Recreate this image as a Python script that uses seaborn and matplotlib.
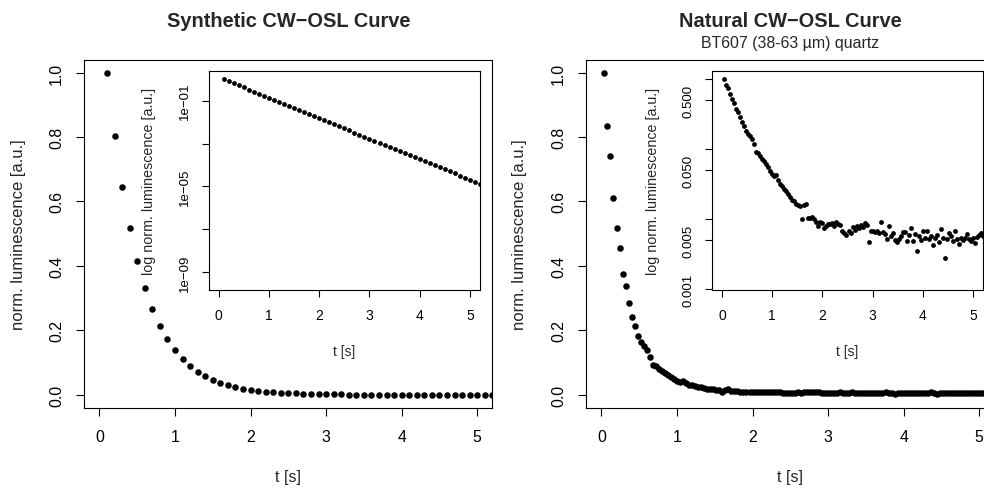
import numpy as np
import pandas as pd
import matplotlib
matplotlib.use("Agg")
import matplotlib.pyplot as plt
from matplotlib.ticker import NullLocator
import seaborn as sns

# ---------------- data ----------------
syn_t = np.round(np.arange(1, 53) * 0.1, 2)
syn_lum = [1.0, 0.8025, 0.6440, 0.5169, 0.4148, 0.3329, 0.2671, 0.2144, 0.1720, 0.1381,
           0.1108, 0.08892, 0.07136, 0.05727, 0.04596, 0.03688, 0.02960, 0.02375, 0.01906, 0.01530,
           0.01228, 0.009853, 0.007907, 0.006346, 0.005093, 0.004087, 0.003280, 0.002632, 0.002112, 0.001695,
           0.001360, 0.001092, 0.0008761, 0.0007031, 0.0005642, 0.0004528, 0.0003634, 0.0002916, 0.0002340, 0.0001878,
           0.0001507, 0.0001210, 0.00009707, 0.00007790, 0.00006252, 0.00005017, 0.00004026, 0.00003231, 0.00002593, 0.00002081,
           0.00001670, 0.00001340]

nat_t = np.round(np.arange(1, 131) * 0.04, 2)
nat_lum = [1.0, 0.834, 0.740, 0.610, 0.517, 0.455, 0.374, 0.337, 0.285, 0.242,
           0.215, 0.184, 0.163, 0.153, 0.140, 0.118, 0.091, 0.089, 0.080, 0.073,
           0.067, 0.061, 0.055, 0.049, 0.044, 0.041, 0.043, 0.036, 0.032, 0.030,
           0.027, 0.025, 0.023, 0.021, 0.019, 0.018, 0.0165, 0.016, 0.0155, 0.0102,
           0.0158, 0.0165, 0.0103, 0.0104, 0.0108, 0.0100, 0.0093, 0.0079, 0.0091, 0.0090,
           0.0075, 0.0081, 0.0087, 0.0085, 0.0089, 0.0079, 0.0092, 0.0085, 0.0082, 0.0068,
           0.0064, 0.0060, 0.0068, 0.0063, 0.0078, 0.0070, 0.0080, 0.0074, 0.0082, 0.0077,
           0.0090, 0.0082, 0.0047, 0.0067, 0.0068, 0.0066, 0.0068, 0.0064, 0.0093, 0.0066,
           0.0061, 0.0053, 0.0081, 0.0058, 0.0063, 0.0051, 0.0047, 0.0052, 0.0058, 0.0065,
           0.0066, 0.0049, 0.0060, 0.0076, 0.0049, 0.0061, 0.0035, 0.0058, 0.0050, 0.0067,
           0.0055, 0.0067, 0.0052, 0.0058, 0.0043, 0.0054, 0.0060, 0.0048, 0.0072, 0.0055,
           0.0028, 0.0052, 0.0063, 0.0057, 0.0049, 0.0068, 0.0053, 0.0045, 0.0054, 0.0051,
           0.0054, 0.0062, 0.0053, 0.0049, 0.0055, 0.0046, 0.0056, 0.0060, 0.0063, 0.0057]

main_xticks = [0, 1, 2, 3, 4, 5]
main_yticks = [0.0, 0.2, 0.4, 0.6, 0.8, 1.0]
main_ylabels = ["0.0", "0.2", "0.4", "0.6", "0.8", "1.0"]
syn_log_ticks = [1e-9, 1e-7, 1e-5, 1e-3, 1e-1]
syn_log_labels = ["1e\u221209", "", "1e\u221205", "", "1e\u221201"]
nat_log_ticks = [0.001, 0.005, 0.01, 0.05, 0.1, 0.5, 1.0]
nat_log_labels = ["0.001", "0.005", "", "0.050", "", "0.500", ""]

titles = ["Synthetic CW\u2212OSL Curve", "Natural CW\u2212OSL Curve"]
subtitle = "BT607 (38-63 \u00b5m) quartz"
xlab = "t [s]"
ylab = "norm. luminescence [a.u.]"
ylab_log = "log norm. luminescence [a.u.]"

# ---------------- style ----------------
sns.set_style("white")
plt.rcParams['font.family'] = ['Liberation Sans', 'DejaVu Sans']

W, H = 984, 489
fig = plt.figure(figsize=(W / 100, H / 100), dpi=100)


def rect(x0, y0, x1, y1):
    return [x0 / W, 1 - y1 / H, (x1 - x0) / W, (y1 - y0) / H]


def ftext(x, y, s, **kw):
    fig.text(x / W, 1 - y / H, s, **kw)


def style(ax, tick_len, xsize, ysize, xpad, ypad):
    for sp in ax.spines.values():
        sp.set_visible(True)
        sp.set_color('black')
        sp.set_linewidth(0.8)
    ax.tick_params(axis='both', direction='out', length=tick_len, width=0.8, color='black',
                   labelcolor='black')
    ax.tick_params(axis='x', labelsize=xsize, pad=xpad, bottom=True)
    ax.tick_params(axis='y', labelsize=ysize, pad=ypad, left=True)
    ax.set_xlabel('')
    ax.set_ylabel('')
    for lab in ax.get_yticklabels():
        lab.set_rotation(90)
        lab.set_va('center')


def main_panel(ax, t, v):
    sns.scatterplot(x=t, y=v, ax=ax, color='black', s=22, linewidth=0, legend=False)
    ax.set_xlim(-0.2, 5.2)
    ax.set_ylim(-0.04, 1.04)
    ax.set_xticks(main_xticks)
    ax.set_yticks(main_yticks, main_ylabels)
    style(ax, 6, 11.4, 11.4, 9.5, 8.5)


def inset_panel(ax, t, v, ticks, labels, ylim):
    sns.scatterplot(x=t, y=v, ax=ax, color='black', s=12, linewidth=0, legend=False)
    ax.set_yscale('log')
    ax.set_xlim(-0.2, 5.2)
    ax.set_ylim(*ylim)
    ax.set_xticks(main_xticks)
    ax.set_yticks(ticks, labels)
    ax.yaxis.set_minor_locator(NullLocator())
    ax.set_facecolor('white')
    style(ax, 5, 10, 9.5, 8.0, 7.5)


# Left panel
ax1 = fig.add_axes(rect(84.3, 60.7, 492.3, 408.7))
main_panel(ax1, syn_t, syn_lum)
ax1i = fig.add_axes(rect(208.7, 71.7, 480, 291))
inset_panel(ax1i, syn_t, syn_lum, syn_log_ticks, syn_log_labels, (10 ** -9.83, 10 ** 0.4))

# Right panel
ax2 = fig.add_axes(rect(586.3, 60.7, 994.3, 408.7))
main_panel(ax2, nat_t, nat_lum)
ax2i = fig.add_axes(rect(712, 71.7, 983, 291))
inset_panel(ax2i, nat_t, nat_lum, nat_log_ticks, nat_log_labels, (0.00098, 1.32))

# Titles and labels
ftext(288.3, 26.7, titles[0], ha='center', va='baseline', fontsize=14.4, fontweight='bold')
ftext(790.3, 26.7, titles[1], ha='center', va='baseline', fontsize=14.4, fontweight='bold')
ftext(790.3, 48.3, subtitle, ha='center', va='baseline', fontsize=11.4)

ftext(288.3, 477.5, xlab, ha='center', va='center', fontsize=11.5)
ftext(790.3, 477.5, xlab, ha='center', va='center', fontsize=11.5)
ftext(18.3, 234.7, ylab, ha='center', va='center', rotation=90, fontsize=12)
ftext(519.5, 234.7, ylab, ha='center', va='center', rotation=90, fontsize=12)

ftext(344.3, 352, xlab, ha='center', va='center', fontsize=10)
ftext(847.5, 352, xlab, ha='center', va='center', fontsize=10)
ftext(149, 181.3, ylab_log, ha='center', va='center', rotation=90, fontsize=10.3)
ftext(652.5, 181.3, ylab_log, ha='center', va='center', rotation=90, fontsize=10.3)

fig.savefig("out.png", dpi=100, facecolor='white')
